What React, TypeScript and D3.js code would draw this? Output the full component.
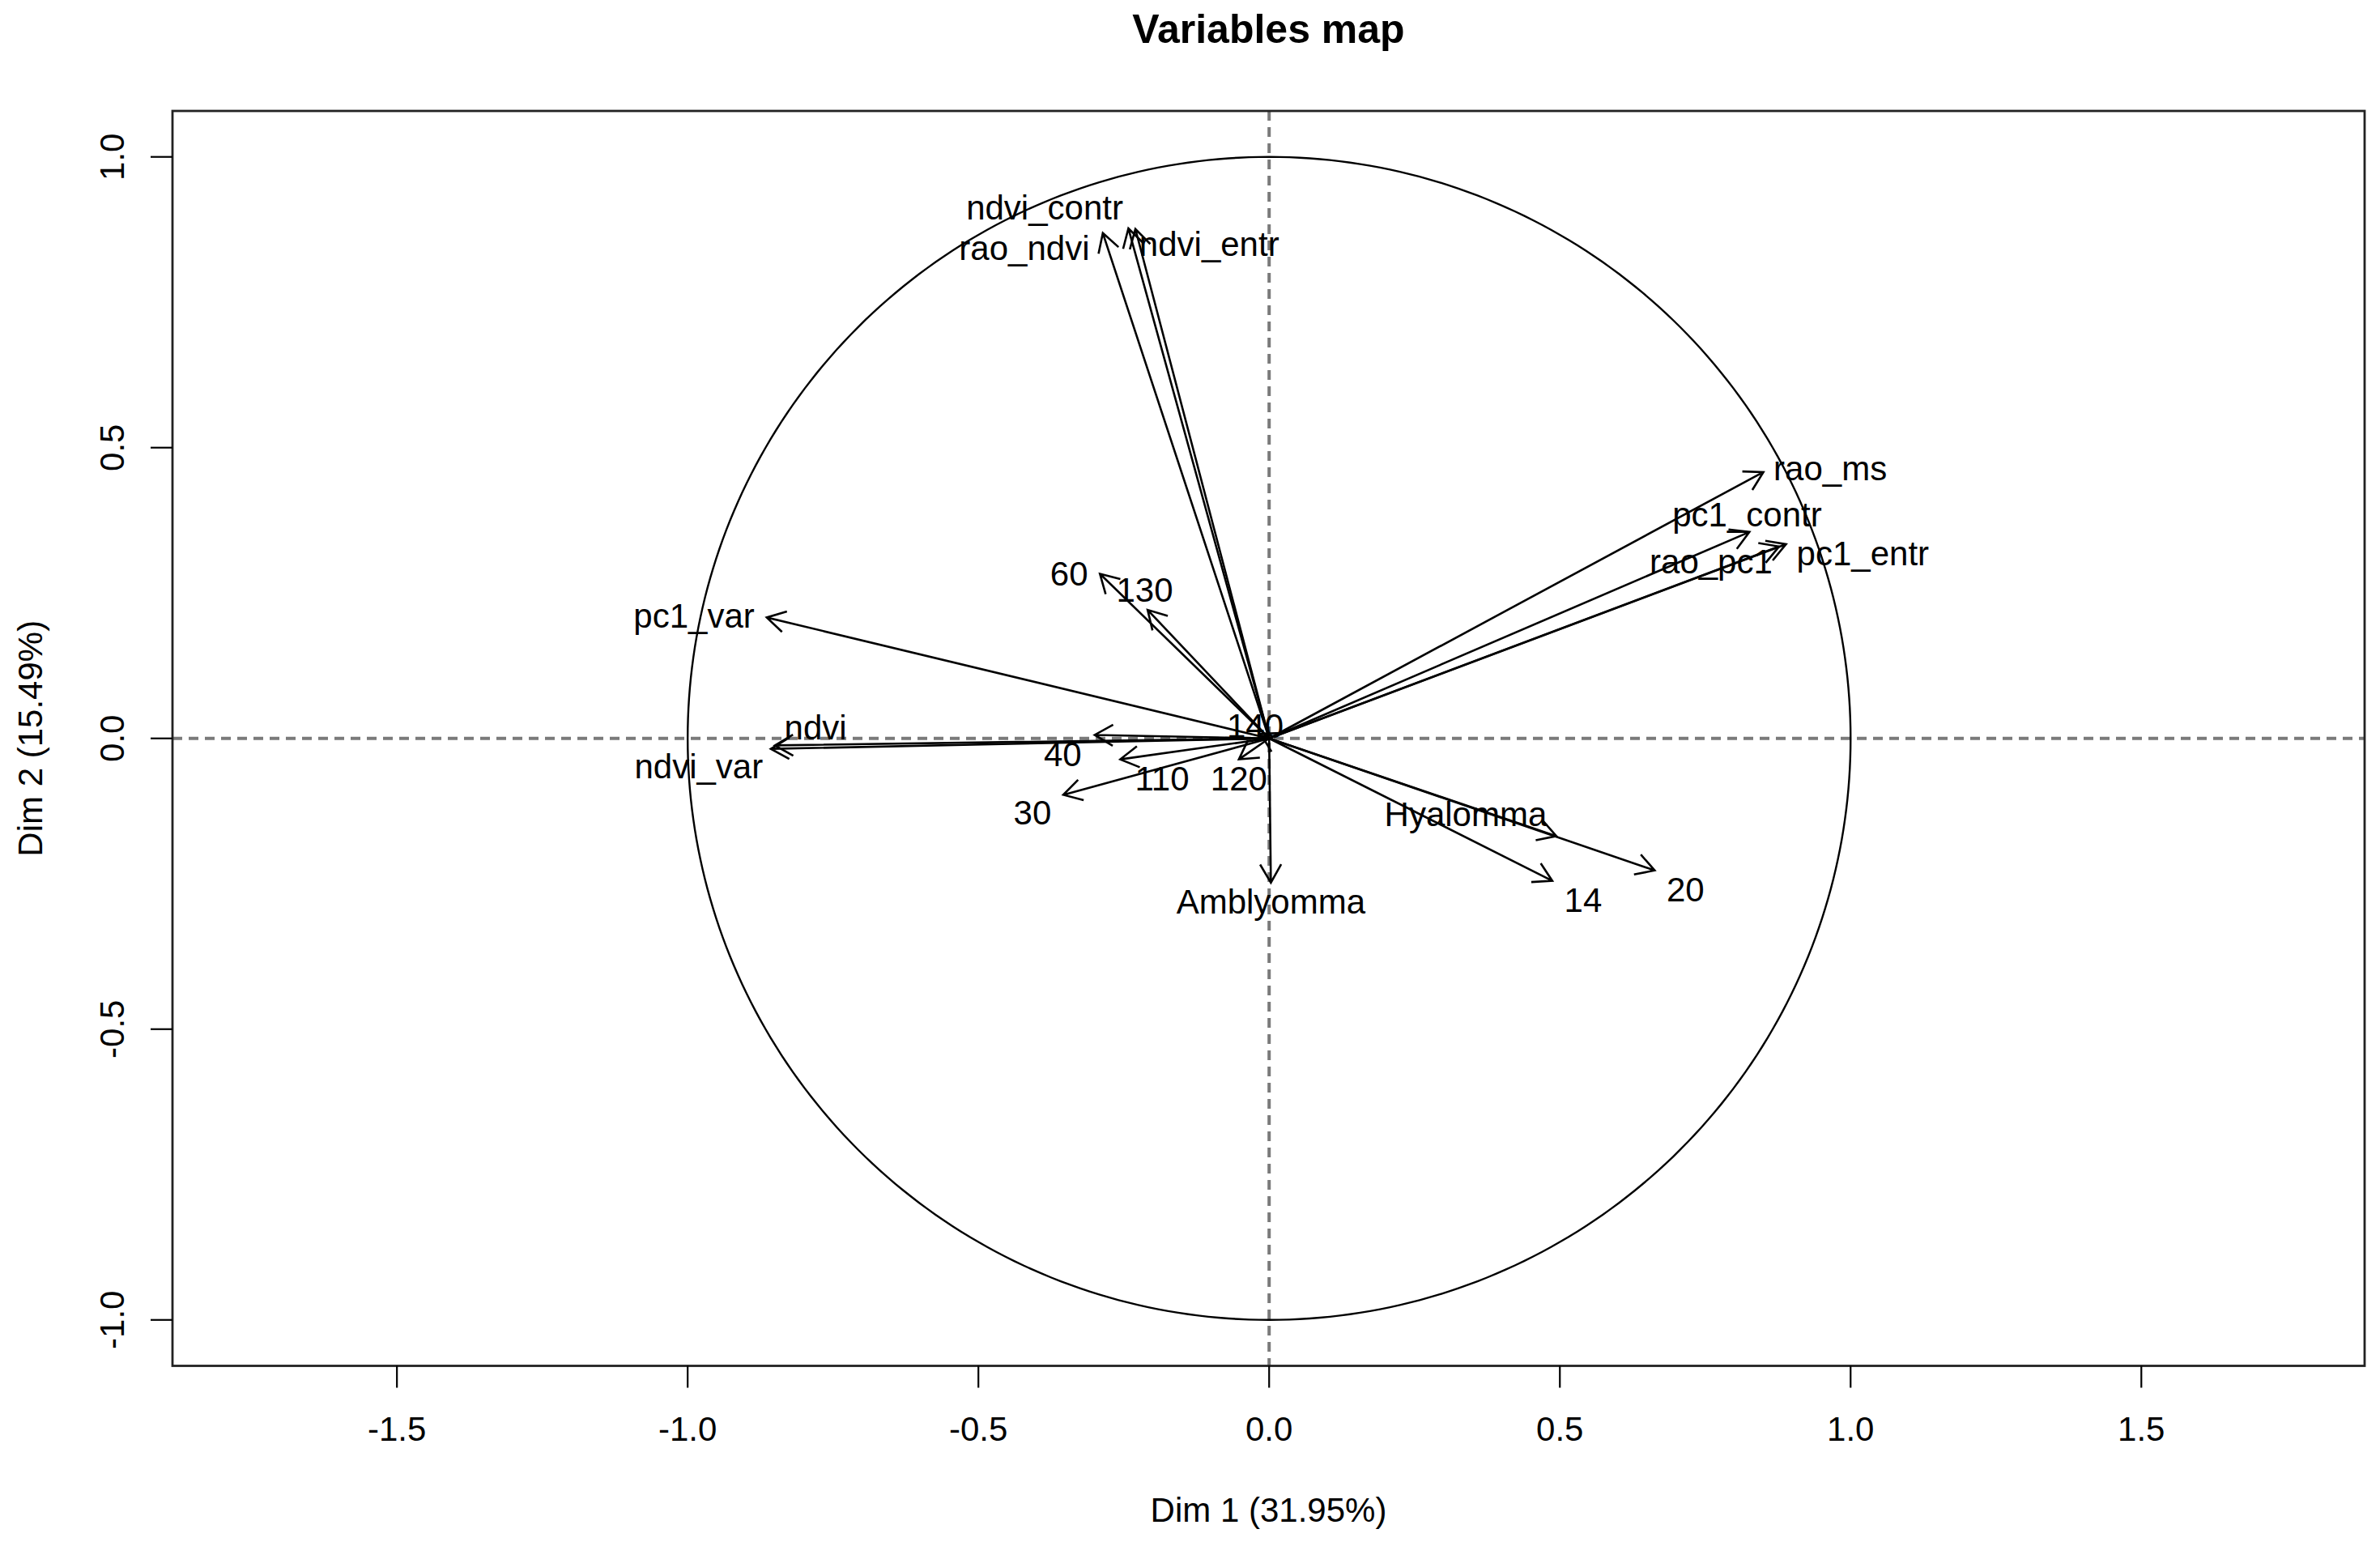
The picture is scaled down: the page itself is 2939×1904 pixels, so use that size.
import React from 'react';
import * as d3 from 'd3';

// ---- Data ----
const varNames = [
  'ndvi_contr', 'rao_ndvi', 'ndvi_entr', 'rao_ms', 'pc1_contr', 'rao_pc1', 'pc1_entr',
  'pc1_var', 'ndvi', 'ndvi_var', '60', '130', '140', '40', '110', '30', '120',
  'Hyalomma', '14', '20', 'Amblyomma',
];
// arrow tips (Dim 1, Dim 2)
const dim1 = [
  -0.242, -0.286, -0.230, 0.850, 0.826, 0.877, 0.889,
  -0.864, -0.850, -0.857, -0.291, -0.209, -0.015, -0.300, -0.256, -0.354, -0.052,
  0.494, 0.487, 0.663, 0.003,
];
const dim2 = [
  0.877, 0.869, 0.876, 0.458, 0.355, 0.330, 0.334,
  0.208, -0.012, -0.018, 0.283, 0.221, 0.008, 0.006, -0.036, -0.097, -0.036,
  -0.168, -0.245, -0.227, -0.248,
];
// label anchors (Dim 1, Dim 2)
const labelDim1 = [
  -0.386, -0.421, -0.103, 0.965, 0.822, 0.760, 1.021,
  -0.989, -0.780, -0.981, -0.344, -0.214, -0.024, -0.355, -0.184, -0.407, -0.052,
  0.338, 0.540, 0.716, 0.003,
];
const labelDim2 = [
  0.911, 0.841, 0.848, 0.462, 0.383, 0.302, 0.316,
  0.208, 0.017, -0.050, 0.281, 0.253, 0.019, -0.029, -0.071, -0.130, -0.071,
  -0.132, -0.280, -0.262, -0.283,
];
const xTicks = [-1.5, -1.0, -0.5, 0.0, 0.5, 1.0, 1.5];
const yTicks = [-1.0, -0.5, 0.0, 0.5, 1.0];
const xDomain = [-1.886, 1.884];
const yDomain = [-1.079, 1.079];
const title = 'Variables map';
const xTitle = 'Dim 1 (31.95%)';
const yTitle = 'Dim 2 (15.49%)';

const W = 2939;
const H = 1904;
const FONT = '"Liberation Sans", Arial, sans-serif';

export default function App() {
  const left = 213, right = 2920, top = 137, bottom = 1686.5;
  const x = d3.scaleLinear().domain(xDomain).range([left, right]);
  const y = d3.scaleLinear().domain(yDomain).range([bottom, top]);
  const fmt = (v: number) => v.toFixed(1);

  const circle = d3.range(0, 361, 1).map((a) => [
    x(Math.cos((a * Math.PI) / 180)),
    y(Math.sin((a * Math.PI) / 180)),
  ] as [number, number]);
  const circlePath = d3.line()(circle) || '';

  const headLen = 26;
  const headAng = Math.PI / 6;

  const arrows = varNames.map((name, i) => {
    const x0 = x(0), y0 = y(0);
    const x1 = x(dim1[i]), y1 = y(dim2[i]);
    const ang = Math.atan2(y1 - y0, x1 - x0);
    const b1 = [x1 - headLen * Math.cos(ang - headAng), y1 - headLen * Math.sin(ang - headAng)];
    const b2 = [x1 - headLen * Math.cos(ang + headAng), y1 - headLen * Math.sin(ang + headAng)];
    const d = `M${x0},${y0}L${x1},${y1}M${b1[0]},${b1[1]}L${x1},${y1}L${b2[0]},${b2[1]}`;
    return <path key={name} d={d} fill="none" stroke="#000" strokeWidth={2.6} strokeLinejoin="miter" />;
  });

  return (
    <svg
      width={W}
      height={H}
      viewBox={`0 0 ${W} ${H}`}
      style={{ position: 'absolute', left: 0, top: 0, background: '#fff' }}
      fontFamily={FONT}
    >
      <rect x={0} y={0} width={W} height={H} fill="#fff" />
      {/* title */}
      <text x={(left + right) / 2} y={53} textAnchor="middle" fontSize={50} fontWeight="bold">{title}</text>

      {/* dashed reference lines */}
      <line x1={left} x2={right} y1={y(0)} y2={y(0)} stroke="#7a7a7a" strokeWidth={4} strokeDasharray="12 8" />
      <line x1={x(0)} x2={x(0)} y1={top} y2={bottom} stroke="#7a7a7a" strokeWidth={4} strokeDasharray="12 8" />

      {/* unit circle */}
      <path d={circlePath} fill="none" stroke="#000" strokeWidth={2.4} />

      {/* arrows */}
      {arrows}

      {/* labels */}
      {varNames.map((name, i) => (
        <text key={'l' + name} x={x(labelDim1[i])} y={y(labelDim2[i])} dy="0.31em" textAnchor="middle" fontSize={42}>
          {name}
        </text>
      ))}

      {/* box */}
      <rect x={left} y={top} width={right - left} height={bottom - top} fill="none" stroke="#222" strokeWidth={2.8} />

      {/* x axis */}
      {xTicks.map((t) => (
        <g key={'xt' + t}>
          <line x1={x(t)} x2={x(t)} y1={bottom} y2={bottom + 27} stroke="#000" strokeWidth={2.2} />
          <text x={x(t)} y={1779} textAnchor="middle" fontSize={42}>{fmt(t)}</text>
        </g>
      ))}
      <text x={(left + right) / 2} y={1879} textAnchor="middle" fontSize={42}>{xTitle}</text>

      {/* y axis */}
      {yTicks.map((t) => (
        <g key={'yt' + t}>
          <line x1={left - 27} x2={left} y1={y(t)} y2={y(t)} stroke="#000" strokeWidth={2.2} />
          <text transform={`translate(153,${y(t)}) rotate(-90)`} textAnchor="middle" fontSize={42}>{fmt(t)}</text>
        </g>
      ))}
      <text transform={`translate(52,${(top + bottom) / 2}) rotate(-90)`} textAnchor="middle" fontSize={42}>{yTitle}</text>
    </svg>
  );
}
